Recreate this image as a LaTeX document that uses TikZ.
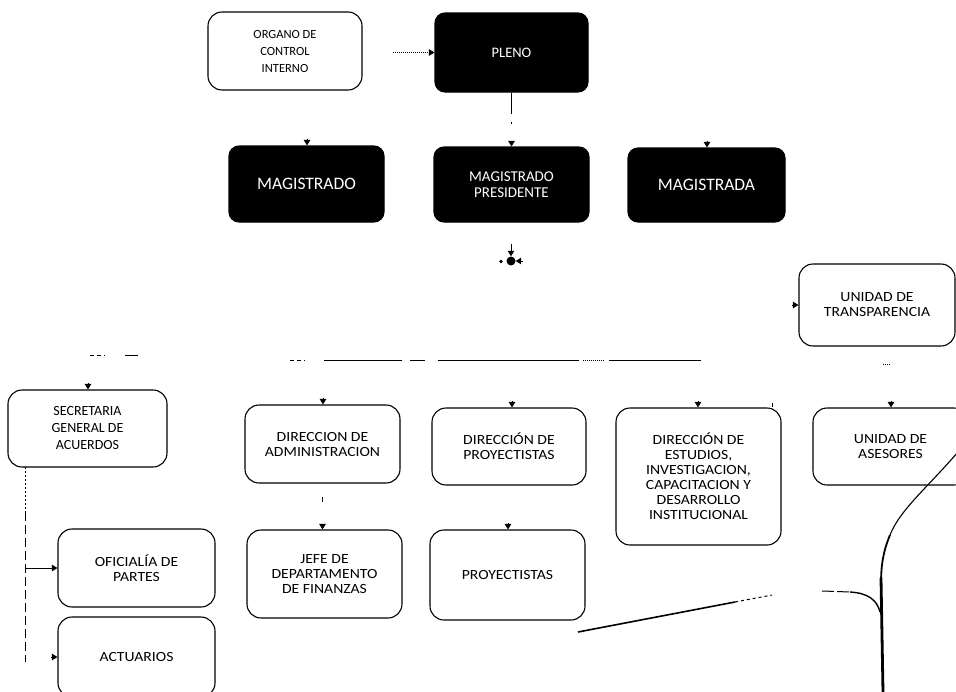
\documentclass[tikz,border=0pt]{standalone}
\usepackage{fontspec}
\setmainfont{Carlito}
\newfontfamily\boxfont[FakeStretch=1.12]{Carlito}
\usetikzlibrary{arrows.meta}
\begin{document}
\begin{tikzpicture}[x=1pt,y=-1pt,
  wbox/.style={draw, line width=1.1pt, rounded corners=14pt, fill=white, align=center,
    inner sep=0pt, font=\boxfont\fontsize{14}{15}\selectfont},
  bbox/.style={draw, line width=1.1pt, fill=black, text=white, rounded corners=10pt, align=center,
    inner sep=0pt, font=\fontsize{17.5}{17}\selectfont},
  tip/.style={-{Triangle[width=6.5pt,length=5.5pt]}},
  conn/.style={line width=1pt},
  thin/.style={line width=1pt}
]
\useasboundingbox (0,0) rectangle (956,691);
\fill[white] (0,0) rectangle (956,691);

% top level
\node[wbox, minimum width=154pt, minimum height=78pt, font=\fontsize{12.5}{17}\selectfont] (organo) at (285,51) {ORGANO DE\\CONTROL\\INTERNO};
\node[bbox, minimum width=153pt, minimum height=79pt, font=\fontsize{14.5}{15}\selectfont] (pleno) at (511.5,52.5) {PLENO};

\node[bbox, minimum width=155pt, minimum height=76pt] (mag1) at (306.5,184) {MAGISTRADO};
\node[bbox, minimum width=155pt, minimum height=75pt, font=\fontsize{15}{15.5}\selectfont] (mp) at (511.5,184.5) {MAGISTRADO\\PRESIDENTE};
\node[bbox, minimum width=157pt, minimum height=74pt] (mag2) at (706.5,185) {MAGISTRADA};

\node[wbox, minimum width=156pt, minimum height=82pt] (transp) at (877,305) {UNIDAD DE\\TRANSPARENCIA};

% second level
\node[wbox, minimum width=159pt, minimum height=77pt, font=\fontsize{14}{17}\selectfont] (secre) at (87.5,428.5) {SECRETARIA\\GENERAL DE\\ACUERDOS};
\node[wbox, minimum width=155pt, minimum height=78pt] (admin) at (322.5,444) {DIRECCION DE\\ADMINISTRACION};
\node[wbox, minimum width=154pt, minimum height=77pt] (dproy) at (509,446.5) {DIRECCIÓN DE\\PROYECTISTAS};
\node[wbox, minimum width=165pt, minimum height=137pt] (dest) at (698.5,476.5) {DIRECCIÓN DE\\ESTUDIOS,\\INVESTIGACION,\\CAPACITACION Y\\DESARROLLO\\INSTITUCIONAL};
\node[wbox, minimum width=155pt, minimum height=77pt] (ases) at (890.5,446.5) {UNIDAD DE\\ASESORES};

% third level
\node[wbox, minimum width=157pt, minimum height=78pt] (ofic) at (136.5,568) {OFICIALÍA DE\\PARTES};
\node[wbox, minimum width=157pt, minimum height=80pt] (actu) at (136.5,657) {ACTUARIOS};
\node[wbox, minimum width=155pt, minimum height=88pt] (jefe) at (324.5,574) {JEFE DE\\DEPARTAMENTO\\DE FINANZAS};
\node[wbox, minimum width=155pt, minimum height=90pt] (proys) at (507.5,575) {PROYECTISTAS};

% connectors
\coordinate (od) at (393,52.5);
\draw[conn, densely dotted, tip] (od) -- (pleno.west);
\draw[conn, tip, dash pattern=on 21pt off 8pt on 2pt off 40pt] (pleno.south) -- (mp.north);

\draw[conn, tip] ([yshift=6pt,xshift=0.5pt]mag1.north) -- ([xshift=0.5pt]mag1.north);
\draw[conn, tip] ([yshift=6pt,xshift=0.5pt]mag2.north) -- ([xshift=0.5pt]mag2.north);

% junction below president
\node[circle, fill=black, inner sep=0pt, minimum size=9pt] (jn) at (511,261) {};
\draw[conn, tip] ([yshift=12pt]jn.north) -- (jn.north);
\draw[conn, tip] ([xshift=7pt]jn.east) -- (jn.east);
\fill (501,261.5) circle (1.8pt);

% bus line
\draw[thin] (324,360) -- (402,360);
\draw[thin] (410,360) -- (425,360);
\draw[thin] (438,360) -- (579,360);
\draw[thin, densely dotted] (583,360) -- (605,360);
\draw[thin] (609,360) -- (701,360);
\draw[thin, dash pattern=on 4pt off 3pt] (290,360) -- (305,360);
\draw[thin, dash pattern=on 4pt off 3pt] (90,355) -- (105,355);
\draw[thin] (125,355) -- (138,355);
\draw[thin, densely dotted] (883,364) -- (890,364);
\draw[thin] (772,403) -- (772,407);

% arrows into second level
\draw[conn, tip] ([yshift=6pt,xshift=0.5pt]secre.north) -- ([xshift=0.5pt]secre.north);
\draw[conn, tip] ([yshift=6pt,xshift=0.5pt]admin.north) -- ([xshift=0.5pt]admin.north);
\draw[conn, tip] ([yshift=6pt,xshift=3pt]dproy.north) -- ([xshift=3pt]dproy.north);
\draw[conn, tip] ([yshift=6pt,xshift=-0.5pt]dest.north) -- ([xshift=-0.5pt]dest.north);
\draw[conn, tip] ([yshift=6pt,xshift=0.5pt]ases.north) -- ([xshift=0.5pt]ases.north);
\draw[conn, tip] ([xshift=-6pt]transp.west) -- (transp.west);

% third level connectors
\draw[conn, tip, dash pattern=on 0pt off 13pt on 5pt off 60pt] (admin.south) -- (admin.south |- jefe.north);
\draw[conn, tip] ([yshift=6pt,xshift=0.5pt]proys.north) -- ([xshift=0.5pt]proys.north);
\coordinate (sv) at (25,467);
\coordinate (sv2) at (25,662);
\draw[conn, dash pattern=on 2pt off 2pt] (sv) -- (25,512);
\draw[conn, dash pattern=on 9pt off 4pt] (25,512) -- (sv2);
\draw[conn, tip] (25,568) -- (ofic.west);
\draw[conn, tip] ([xshift=-6pt]actu.west) -- (actu.west);

% right curves
\draw[line width=1.1pt] (958,452) .. controls (925,490) and (900,510) .. (890,535);
\draw[line width=1.8pt] (890,535) .. controls (883,552) and (881,565) .. (881,585);
\draw[line width=2.8pt] (881,578) -- (883,692);
\draw[line width=1pt, dash pattern=on 12pt off 3pt] (822,591) -- (850,592);
\draw[line width=1.4pt] (850,592) .. controls (868,593) and (877,600) .. (880,612);

% slanted line
\draw[line width=1.6pt] (578,632) -- (735,602);
\draw[line width=1pt, dashed] (735,602) -- (772,595);
\end{tikzpicture}
\end{document}
